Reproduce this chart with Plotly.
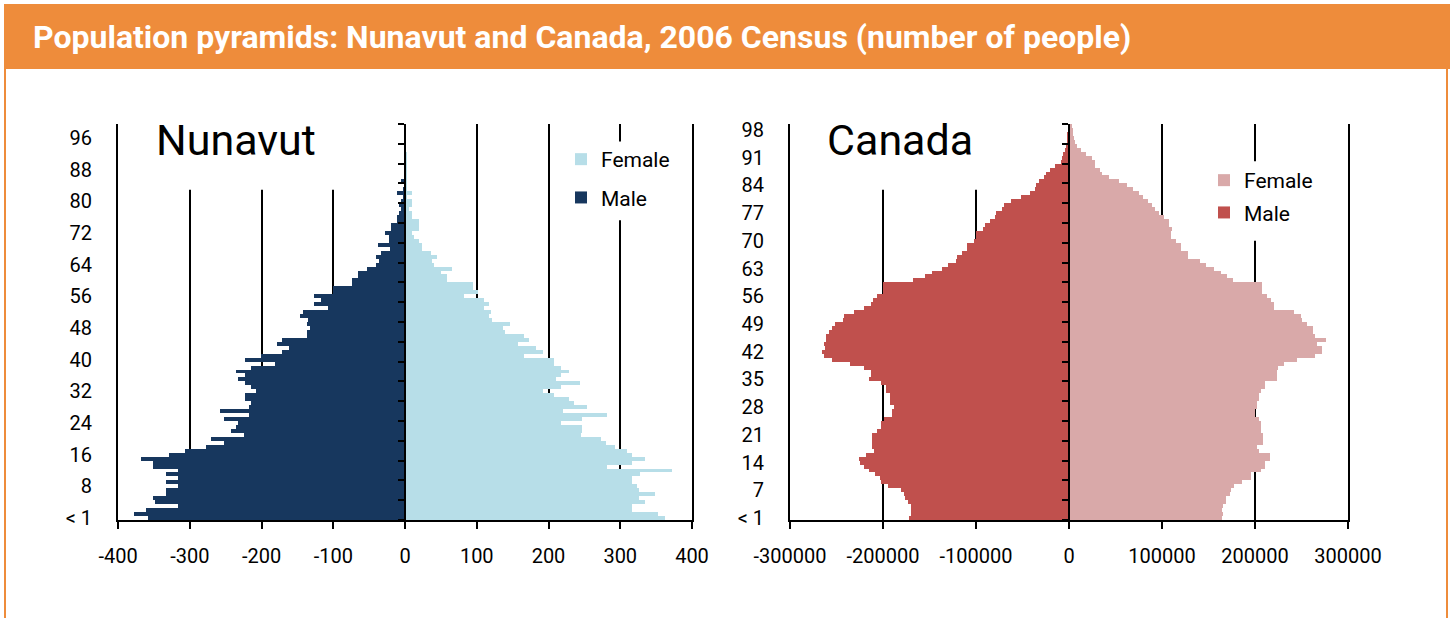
import plotly.graph_objects as go

# ---------------- data ----------------
ages = list(range(100))
age_labels = ["< 1"] + [str(a) for a in range(1, 100)]

nu_male = [358, 378, 361, 317, 348, 351, 333, 333, 317, 333,
           317, 333, 317, 351, 351, 368, 329, 306, 278, 252,
           271, 224, 242, 236, 233, 252, 217, 258, 217, 215,
           223, 223, 208, 214, 223, 233, 223, 236, 214, 181,
           223, 201, 171, 162, 178, 171, 137, 136, 133, 137,
           135, 146, 142, 108, 127, 117, 127, 100, 100, 74,
           74, 65, 65, 53, 40, 36, 40, 33, 21, 37,
           23, 22, 28, 19, 19, 11, 11, 9, 6, 9,
           5, 2, 11, 2, 0, 5, 1, 0, 1, 0,
           0, 0, 0, 0, 0, 0, 0, 0, 0, 0]

nu_female = [363, 352, 317, 317, 334, 326, 348, 326, 324, 317,
             317, 327, 372, 282, 317, 334, 317, 310, 292, 280,
             273, 245, 247, 247, 217, 247, 282, 220, 253, 236,
             228, 208, 192, 217, 244, 210, 217, 228, 217, 208,
             208, 166, 192, 182, 157, 173, 166, 140, 137, 146,
             121, 117, 120, 110, 117, 110, 82, 102, 95, 95,
             59, 59, 50, 65, 40, 37, 45, 36, 23, 23,
             20, 12, 10, 20, 20, 20, 10, 10, 6, 10,
             10, 3, 10, 3, 2, 3, 2, 2, 3, 3,
             3, 3, 2, 0, 0, 0, 0, 0, 0, 0]

ca_male = [172000, 170000, 170000, 170000, 173000, 176000, 177000, 181000, 195000, 202000,
           203000, 209000, 215000, 220000, 225000, 226000, 218000, 210000, 212000, 212000,
           212000, 212000, 206000, 202000, 202000, 199000, 190000, 190000, 188000, 192000,
           192000, 193000, 197000, 197000, 202000, 215000, 213000, 213000, 220000, 236000,
           255000, 263000, 266000, 262000, 263000, 261000, 261000, 258000, 255000, 252000,
           243000, 242000, 231000, 220000, 213000, 211000, 206000, 200000, 200000, 200000,
           168000, 155000, 147000, 137000, 130000, 121000, 120000, 115000, 110000, 110000,
           102000, 100000, 100000, 92000, 90000, 85000, 80000, 79000, 72000, 70000,
           62000, 52000, 42000, 37000, 35000, 32000, 27000, 25000, 20000, 15000,
           9000, 8000, 6000, 4000, 3000, 2500, 2000, 1500, 1000, 600]

ca_female = [164000, 166000, 164000, 166000, 169000, 169000, 173000, 174000, 177000, 186000,
             196000, 196000, 206000, 211000, 211000, 216000, 216000, 204000, 202000, 209000,
             209000, 209000, 206000, 206000, 206000, 204000, 200000, 200000, 202000, 202000,
             204000, 204000, 206000, 211000, 211000, 224000, 224000, 224000, 225000, 231000,
             245000, 265000, 272000, 272000, 267000, 276000, 265000, 262000, 262000, 256000,
             250000, 249000, 242000, 220000, 220000, 217000, 213000, 207000, 207000, 207000,
             176000, 170000, 163000, 156000, 147000, 141000, 128000, 128000, 120000, 120000,
             115000, 110000, 110000, 111000, 107000, 107000, 102000, 97000, 93000, 89000,
             85000, 80000, 75000, 69000, 62000, 54000, 43000, 36000, 33000, 28000,
             28000, 25000, 18000, 13000, 9000, 6000, 5000, 4500, 4000, 3500]

nu_xticks = [-400, -300, -200, -100, 0, 100, 200, 300, 400]
nu_xlabels = [str(v) for v in nu_xticks]
ca_xticks = [-300000, -200000, -100000, 0, 100000, 200000, 300000]
ca_xlabels = [str(v) for v in ca_xticks]
nu_yticks = list(range(0, 100, 8))
ca_yticks = list(range(0, 100, 7))

# ---------------- style ----------------
W, H = 1450, 618
FONT = "Roboto, 'Noto Sans', sans-serif"
ORANGE = "#EE8C3B"
NAVY, LIGHTBLUE = "#17375E", "#B7DEE8"
RED, PINK = "#C0504D", "#D9A9A9"


def px(x):
    return x / W


def py(y):
    return 1 - y / H


xd1 = [px(118), px(692)]
xd2 = [px(790), px(1348)]
yd = [py(520), py(124)]

fig = go.Figure()
fig.add_trace(go.Bar(y=ages, x=nu_female, orientation="h", name="Female",
                     marker=dict(color=LIGHTBLUE, line=dict(width=0)),
                     xaxis="x", yaxis="y", legend="legend", legendgroup="nf"))
fig.add_trace(go.Bar(y=ages, x=[-v for v in nu_male], orientation="h", name="Male",
                     marker=dict(color=NAVY, line=dict(width=0)),
                     xaxis="x", yaxis="y", legend="legend", legendgroup="nm"))
fig.add_trace(go.Bar(y=ages, x=ca_female, orientation="h", name="Female",
                     marker=dict(color=PINK, line=dict(width=0)),
                     xaxis="x2", yaxis="y2", legend="legend2", legendgroup="cf"))
fig.add_trace(go.Bar(y=ages, x=[-v for v in ca_male], orientation="h", name="Male",
                     marker=dict(color=RED, line=dict(width=0)),
                     xaxis="x2", yaxis="y2", legend="legend2", legendgroup="cm"))
# carriers for the centre (zero) axes
fig.add_trace(go.Scatter(x=[None], y=[None], xaxis="x", yaxis="y3",
                         showlegend=False, hoverinfo="skip"))
fig.add_trace(go.Scatter(x=[None], y=[None], xaxis="x2", yaxis="y4",
                         showlegend=False, hoverinfo="skip"))

tickfont = dict(family=FONT, size=20, color="black")
yrange = [-0.5, 99.5]
boundaries = [b - 0.5 for b in range(0, 101, 5)]


def xaxis(domain, rng, tv, tt, anchor):
    return dict(domain=domain, range=rng, anchor=anchor, tickvals=tv, ticktext=tt,
                showgrid=True, gridcolor="black", gridwidth=2, zeroline=False,
                showline=True, linecolor="black", linewidth=2,
                ticks="outside", ticklen=7, tickwidth=2, tickcolor="black",
                tickfont=tickfont, ticklabelstandoff=10, fixedrange=True,
                automargin=False)


def yaxis(tv, anchor):
    return dict(domain=yd, range=yrange, anchor=anchor, tickvals=tv,
                ticktext=[age_labels[i] for i in tv],
                showgrid=False, zeroline=False, showline=True, mirror=True,
                linecolor="black", linewidth=2, ticks="",
                tickfont=tickfont, ticklabelstandoff=20, fixedrange=True,
                automargin=False)


def centre_axis(over, pos):
    return dict(overlaying=over, anchor="free", position=pos, range=yrange,
                tickvals=boundaries, showticklabels=False, showgrid=False,
                zeroline=False, showline=True, linecolor="black", linewidth=2,
                ticks="outside", ticklen=6, tickwidth=2, tickcolor="black",
                fixedrange=True, automargin=False)


fig.update_layout(
    width=W, height=H,
    margin=dict(l=0, r=0, t=0, b=0, pad=0, autoexpand=False),
    paper_bgcolor="white", plot_bgcolor="white",
    barmode="relative", bargap=0,
    font=dict(family=FONT, color="black"),
    xaxis=xaxis(xd1, [-400, 400], nu_xticks, nu_xlabels, "y"),
    yaxis=yaxis(nu_yticks, "x"),
    xaxis2=xaxis(xd2, [-300000, 300000], ca_xticks, ca_xlabels, "y2"),
    yaxis2=yaxis(ca_yticks, "x2"),
    yaxis3=centre_axis("y", (xd1[0] + xd1[1]) / 2),
    yaxis4=centre_axis("y2", (xd2[0] + xd2[1]) / 2),
    legend=dict(x=px(561), y=py(139), xanchor="left", yanchor="top",
                bgcolor="rgba(0,0,0,0)", font=dict(family=FONT, size=21),
                tracegroupgap=8, itemwidth=30),
    legend2=dict(x=px(1204), y=py(160), xanchor="left", yanchor="top",
                 bgcolor="rgba(0,0,0,0)", font=dict(family=FONT, size=21),
                 tracegroupgap=2, itemwidth=30),
    showlegend=True,
)

shapes = [
    # header bar and frame
    dict(type="rect", xref="paper", yref="paper", x0=px(4), x1=1, y0=py(69), y1=py(4),
         fillcolor=ORANGE, line=dict(width=0), layer="above"),
    dict(type="line", xref="paper", yref="paper", x0=px(5), x1=px(5), y0=0, y1=py(69),
         line=dict(color=ORANGE, width=2)),
    dict(type="line", xref="paper", yref="paper", x0=px(1447), x1=px(1447), y0=0, y1=py(69),
         line=dict(color=ORANGE, width=2)),
    # white areas behind panel titles and legends (gridlines interrupted there)
    dict(type="rect", xref="x", yref="y", x0=-385, x1=-40, y0=82.9, y1=99.5,
         fillcolor="white", line=dict(width=0), layer="between"),
    dict(type="rect", xref="x", yref="y", x0=250, x1=385, y0=75.2, y1=95.1,
         fillcolor="white", line=dict(width=0), layer="between"),
    dict(type="rect", xref="x2", yref="y2", x0=-290000, x1=-50000, y0=82.9, y1=99.5,
         fillcolor="white", line=dict(width=0), layer="between"),
    dict(type="rect", xref="x2", yref="y2", x0=150000, x1=290000, y0=70.0, y1=90.1,
         fillcolor="white", line=dict(width=0), layer="between"),
]
fig.update_layout(shapes=shapes)

fig.update_layout(annotations=[
    dict(text="Population pyramids: Nunavut and Canada, 2006 Census (number of people)",
         xref="paper", yref="paper", x=px(31), y=py(37), xanchor="left", yanchor="middle",
         showarrow=False, font=dict(family=FONT, size=32, color="white", weight="bold")),
    dict(text="Nunavut", xref="paper", yref="paper", x=px(154), y=py(140),
         xanchor="left", yanchor="middle", showarrow=False,
         font=dict(family=FONT, size=43, color="black")),
    dict(text="Canada", xref="paper", yref="paper", x=px(825), y=py(140),
         xanchor="left", yanchor="middle", showarrow=False,
         font=dict(family=FONT, size=43, color="black")),
])

# the page body has a default 8px margin; remove it so the figure fills the window
fig.write_html("out.html", config={"displayModeBar": False},
               post_script="document.body.style.margin='0';")
